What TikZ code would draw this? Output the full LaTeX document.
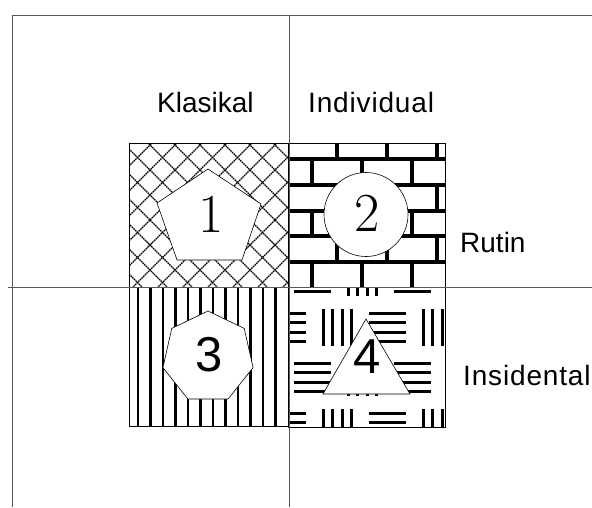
\documentclass[tikz,border=0pt]{standalone}
\usepackage{fontspec}
\newfontfamily\arialf{Liberation Sans}
\newfontfamily\arialsp[LetterSpace=3]{Liberation Sans}
\begin{document}
\begin{tikzpicture}[x=1pt,y=-1pt,
  axisline/.style={draw=black!65,line width=0.9pt},
  qbox/.style={draw=black,line width=0.8pt},
  diam/.style={draw=black,line width=1.4pt,dash pattern=on 1.6pt off 0.7pt},
  brick/.style={draw=black,line width=4.5pt},
  stripe/.style={draw=black,line width=2.8pt},
  weave/.style={draw=black,line width=2.8pt},
  shapeb/.style={draw=black,line width=0.6pt,fill=white},
  lbl/.style={font=\arialf\fontsize{28}{30}\selectfont,anchor=base west,inner sep=0pt},
  lblsp/.style={font=\arialsp\fontsize{28}{30}\selectfont,anchor=base west,inner sep=0pt},
  numser/.style={font=\fontsize{55}{60}\selectfont,inner sep=0pt},
  numsans/.style={font=\arialf\fontsize{49}{55}\selectfont,inner sep=0pt}]
\useasboundingbox (0,0) rectangle (592,507);
\fill[white] (0,0) rectangle (592,507);

% quadrant 1: diamond lattice
\begin{scope}
  \clip (129,143) rectangle (288,287);
  \foreach \k in {0,...,13} {
    \draw[diam] (270+25*\k-100,100) -- (270+25*\k-320,320);
    \draw[diam] (-170+25*\k+100,100) -- (-170+25*\k+320,320);
  }
\end{scope}

% quadrant 2: bricks
\begin{scope}
  \clip (288,143) rectangle (445,287);
  \foreach \y in {159,185,211,236,262} \draw[brick] (280,\y) -- (450,\y);
  \foreach \yt/\yb/\off in {143/159/337, 159/185/312, 185/211/337, 211/236/312, 236/262/337, 262/287/312} {
    \foreach \k in {0,1,2} \draw[brick] (\off+50*\k,\yt) -- (\off+50*\k,\yb);
  }
\end{scope}

% quadrant 3: vertical stripes
\begin{scope}
  \clip (129,287) rectangle (288,426);
  \foreach \k in {0,...,11} \draw[stripe] (138+12.5*\k,280) -- (138+12.5*\k,430);
\end{scope}

% quadrant 4: basket weave
\begin{scope}
  \clip (288,287) rectangle (445,427);
  \foreach \cy/\hs in {277.5/312.5, 327.5/287.5, 377.5/312.5, 427.5/287.5} {
    \foreach \k in {-1,0,1} {
      \foreach \d in {-14.25,-4.75,4.75,14.25} {
        \draw[weave] (\hs+100*\k-18.5,\cy+\d) -- (\hs+100*\k+18.5,\cy+\d);
        \draw[weave] (\hs+100*\k+50+\d,\cy-18.5) -- (\hs+100*\k+50+\d,\cy+18.5);
      }
    }
  }
\end{scope}

% quadrant borders
\draw[qbox] (129,143) rectangle (288,287);
\draw[qbox] (288,143) rectangle (445,287);
\draw[qbox] (129,287) rectangle (288,426);
\draw[qbox] (288,287) rectangle (445,427);

% axis lines
\coordinate (tl) at (12,15);
\coordinate (tr) at (592,15);
\coordinate (bl) at (12,507);
\coordinate (ct) at (289,15);
\coordinate (cb) at (289,507);
\coordinate (ml) at (8,287);
\coordinate (mr) at (592,287);
\draw[axisline] (tl) -- (tr);
\draw[axisline] (tl) -- (bl);
\draw[axisline] (ct) -- (cb);
\draw[axisline] (ml) -- (mr);

% shapes
\draw[shapeb] (208,169) -- (261,204) -- (242,260) -- (177,260) -- (157,203) -- cycle;
\node[shapeb,circle,minimum size=84pt,inner sep=0pt] (c2) at (366,214.5) {};
\draw[shapeb] (208,311) -- (244.2,328.4) -- (253.1,367.6) -- (228.1,399) -- (187.9,399) -- (162.9,367.6) -- (171.8,328.4) -- cycle;
\draw[shapeb] (366,319) -- (410,394) -- (323,394) -- cycle;

% numbers
\node[numser] (n1) at (211,214) {1};
\node[numser] (n2) at (367,213) {2};
\node[numsans] (n3) at (209,355) {3};
\node[numsans] (n4) at (367,357) {4};

% labels
\node[lbl] (klasikal) at (157,112) {Klasikal};
\node[lblsp] (individual) at (308,112) {Individual};
\node[lbl] (rutin) at (460,252) {Rutin};
\node[lblsp] (insidental) at (463,385) {Insidental};
\end{tikzpicture}
\end{document}
